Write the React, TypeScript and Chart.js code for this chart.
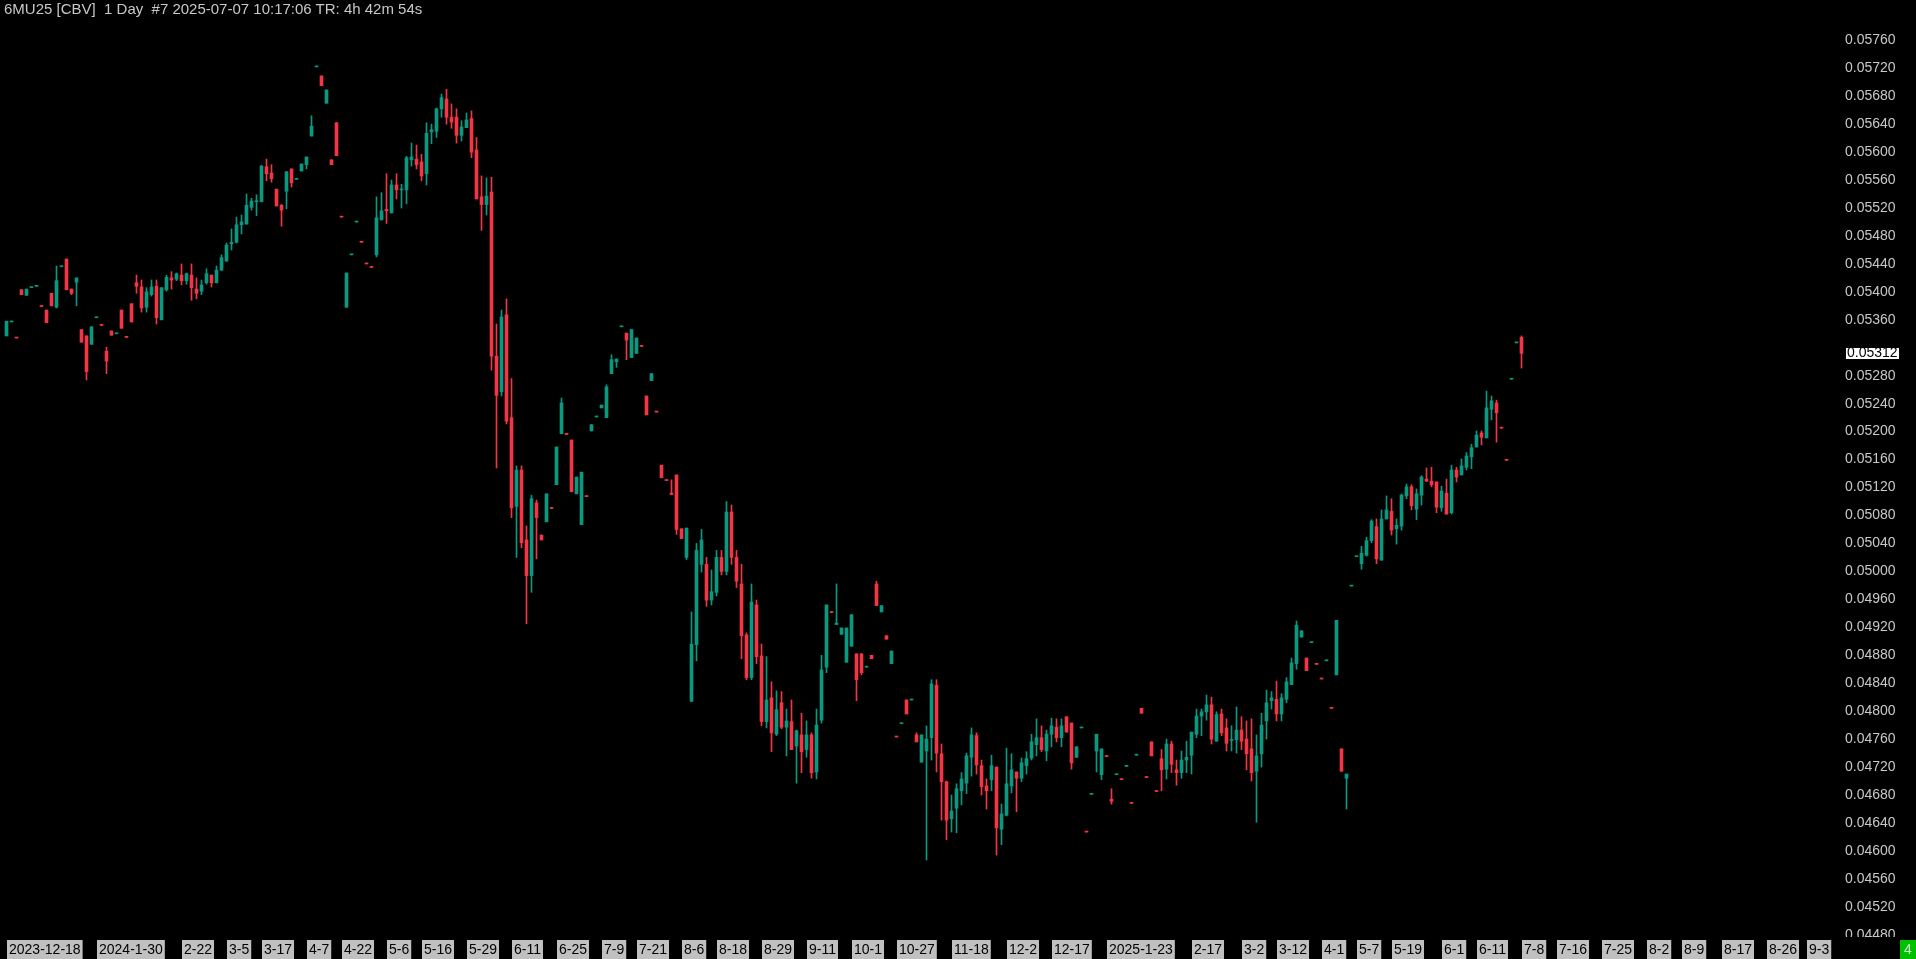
import React, { useEffect, useRef } from 'react';
import { Chart, registerables } from 'chart.js';

Chart.register(...registerables);

const TITLE = '6MU25 [CBV]  1 Day  #7 2025-07-07 10:17:06 TR: 4h 42m 54s';
const STATUS_TEXT = '4';
const SLOT_COUNT = 367;

const openPrices = [
  0.05337,0.05357,0.05335,0.05403,0.05395,0.05406,0.05408,0.05380,0.05374,0.05398,
  0.05378,0.05436,0.05447,0.05404,0.05414,0.05346,0.05337,0.05325,0.05363,0.05353,
  0.05315,0.05344,0.05340,0.05374,0.05336,0.05383,0.05413,0.05407,0.05378,0.05396,
  0.05408,0.05360,0.05403,0.05420,0.05418,0.05424,0.05416,0.05424,0.05404,0.05401,
  0.05413,0.05424,0.05413,0.05431,0.05444,0.05469,0.05471,0.05496,0.05497,0.05521,
  0.05529,0.05529,0.05579,0.05570,0.05547,0.05524,0.05544,0.05576,0.05561,0.05573,
  0.05582,0.05623,0.05722,0.05709,0.05670,0.05589,0.05642,0.05508,0.05378,0.05453,
  0.05500,0.05472,0.05441,0.05436,0.05453,0.05503,0.05518,0.05513,0.05553,0.05546,
  0.05546,0.05589,0.05590,0.05586,0.05569,0.05629,0.05630,0.05662,0.05676,0.05650,
  0.05650,0.05624,0.05635,0.05648,0.05603,0.05536,0.05525,0.05543,0.05308,0.05257,
  0.05367,0.05220,0.05093,0.05145,0.05045,0.04994,0.05098,0.05052,0.05071,0.05091,
  0.05124,0.05197,0.05197,0.05188,0.05111,0.05067,0.05108,0.05201,0.05221,0.05234,
  0.05220,0.05283,0.05300,0.05350,0.05341,0.05306,0.05312,0.05323,0.05251,0.05273,
  0.05229,0.05152,0.05131,0.05112,0.05138,0.05061,0.05020,0.04814,0.04895,0.05010,
  0.05010,0.04959,0.04970,0.05020,0.05000,0.05085,0.05020,0.04982,0.04909,0.04848,
  0.04952,0.04879,0.04785,0.04819,0.04767,0.04812,0.04777,0.04785,0.04750,0.04766,
  0.04745,0.04766,0.04713,0.04787,0.04863,0.04942,0.04924,0.04910,0.04870,0.04893,
  0.04882,0.04882,0.04863,0.04880,0.04982,0.04942,0.04908,0.04868,0.04764,0.04782,
  0.04816,0.04816,0.04766,0.04727,0.04743,0.04762,0.04837,0.04739,0.04699,0.04646,
  0.04661,0.04686,0.04697,0.04734,0.04765,0.04722,0.04693,0.04702,0.04720,0.04631,
  0.04651,0.04693,0.04713,0.04704,0.04722,0.04733,0.04752,0.04762,0.04743,0.04767,
  0.04777,0.04762,0.04792,0.04783,0.04734,0.04776,0.04628,0.04681,0.04743,0.04709,
  0.04736,0.04674,0.04709,0.04703,0.04721,0.04669,0.04737,0.04804,0.04706,0.04756,
  0.04686,0.04732,0.04717,0.04753,0.04716,0.04712,0.04730,0.04737,0.04767,0.04793,
  0.04799,0.04809,0.04757,0.04796,0.04776,0.04758,0.04759,0.04773,0.04760,0.04746,
  0.04714,0.04739,0.04786,0.04815,0.04817,0.04796,0.04817,0.04838,0.04868,0.04906,
  0.04876,0.04898,0.04868,0.04847,0.04872,0.04805,0.04852,0.04746,0.04704,0.04979,
  0.05021,0.05011,0.05023,0.05044,0.05064,0.05016,0.05075,0.05086,0.05061,0.05065,
  0.05108,0.05121,0.05089,0.05109,0.05132,0.05129,0.05128,0.05091,0.05112,0.05084,
  0.05145,0.05138,0.05149,0.05164,0.05178,0.05198,0.05191,0.05232,0.05241,0.05206,
  0.05160,0.05275,0.05327,0.05335,
];

const highPrices = [
  0.05358,0.05358,0.05335,0.05403,0.05404,0.05407,0.05409,0.05380,0.05374,0.05398,
  0.05437,0.05437,0.05447,0.05404,0.05420,0.05346,0.05337,0.05350,0.05364,0.05353,
  0.05321,0.05344,0.05341,0.05374,0.05336,0.05383,0.05424,0.05417,0.05406,0.05417,
  0.05417,0.05406,0.05424,0.05429,0.05427,0.05440,0.05427,0.05440,0.05420,0.05417,
  0.05433,0.05424,0.05437,0.05453,0.05470,0.05490,0.05507,0.05510,0.05540,0.05534,
  0.05539,0.05581,0.05590,0.05582,0.05547,0.05525,0.05572,0.05576,0.05562,0.05583,
  0.05593,0.05652,0.05723,0.05709,0.05689,0.05589,0.05642,0.05508,0.05427,0.05454,
  0.05501,0.05472,0.05441,0.05436,0.05536,0.05542,0.05569,0.05560,0.05569,0.05554,
  0.05594,0.05613,0.05610,0.05597,0.05642,0.05640,0.05663,0.05683,0.05690,0.05669,
  0.05662,0.05645,0.05656,0.05659,0.05621,0.05566,0.05563,0.05564,0.05354,0.05374,
  0.05390,0.05276,0.05151,0.05151,0.05065,0.05109,0.05102,0.05052,0.05111,0.05091,
  0.05178,0.05248,0.05197,0.05188,0.05135,0.05142,0.05108,0.05210,0.05222,0.05238,
  0.05267,0.05310,0.05304,0.05351,0.05341,0.05346,0.05334,0.05323,0.05251,0.05283,
  0.05229,0.05152,0.05131,0.05131,0.05138,0.05061,0.05062,0.04942,0.05040,0.05060,
  0.05020,0.05002,0.05030,0.05030,0.05100,0.05095,0.05030,0.05010,0.04912,0.04982,
  0.04959,0.04896,0.04878,0.04842,0.04829,0.04828,0.04803,0.04816,0.04773,0.04797,
  0.04786,0.04769,0.04803,0.04880,0.04952,0.04942,0.04982,0.04919,0.04919,0.04938,
  0.04882,0.04882,0.04864,0.04880,0.04986,0.04951,0.04908,0.04886,0.04764,0.04783,
  0.04816,0.04817,0.04769,0.04766,0.04779,0.04845,0.04845,0.04753,0.04700,0.04680,
  0.04696,0.04712,0.04740,0.04776,0.04769,0.04730,0.04703,0.04737,0.04720,0.04667,
  0.04747,0.04739,0.04713,0.04733,0.04742,0.04767,0.04789,0.04779,0.04773,0.04790,
  0.04789,0.04789,0.04792,0.04783,0.04749,0.04777,0.04628,0.04682,0.04767,0.04746,
  0.04736,0.04689,0.04710,0.04703,0.04722,0.04669,0.04738,0.04804,0.04706,0.04756,
  0.04686,0.04745,0.04760,0.04757,0.04730,0.04743,0.04757,0.04770,0.04803,0.04803,
  0.04823,0.04820,0.04799,0.04803,0.04789,0.04779,0.04806,0.04792,0.04786,0.04789,
  0.04766,0.04797,0.04830,0.04828,0.04843,0.04825,0.04848,0.04876,0.04929,0.04915,
  0.04876,0.04899,0.04868,0.04847,0.04873,0.04805,0.04930,0.04746,0.04710,0.04980,
  0.05022,0.05036,0.05049,0.05074,0.05075,0.05088,0.05108,0.05104,0.05075,0.05111,
  0.05125,0.05124,0.05118,0.05137,0.05148,0.05149,0.05128,0.05122,0.05132,0.05152,
  0.05149,0.05161,0.05170,0.05182,0.05201,0.05201,0.05258,0.05251,0.05245,0.05206,
  0.05160,0.05276,0.05328,0.05337,
];

const lowPrices = [
  0.05337,0.05357,0.05334,0.05396,0.05395,0.05406,0.05408,0.05379,0.05356,0.05380,
  0.05377,0.05436,0.05403,0.05396,0.05380,0.05328,0.05274,0.05325,0.05363,0.05352,
  0.05283,0.05338,0.05340,0.05348,0.05335,0.05357,0.05398,0.05371,0.05371,0.05394,
  0.05354,0.05360,0.05401,0.05404,0.05416,0.05410,0.05411,0.05388,0.05390,0.05396,
  0.05411,0.05407,0.05413,0.05431,0.05444,0.05460,0.05470,0.05483,0.05497,0.05517,
  0.05509,0.05529,0.05559,0.05557,0.05523,0.05494,0.05519,0.05550,0.05561,0.05573,
  0.05576,0.05623,0.05722,0.05695,0.05670,0.05582,0.05595,0.05507,0.05378,0.05453,
  0.05500,0.05471,0.05440,0.05435,0.05450,0.05503,0.05498,0.05513,0.05533,0.05520,
  0.05526,0.05580,0.05576,0.05559,0.05553,0.05612,0.05621,0.05650,0.05640,0.05634,
  0.05613,0.05616,0.05635,0.05592,0.05533,0.05488,0.05510,0.05288,0.05148,0.05251,
  0.05211,0.05077,0.05020,0.05034,0.04925,0.04970,0.05018,0.05045,0.05071,0.05090,
  0.05124,0.05197,0.05196,0.05114,0.05111,0.05067,0.05107,0.05201,0.05221,0.05234,
  0.05220,0.05283,0.05292,0.05350,0.05303,0.05306,0.05312,0.05322,0.05224,0.05273,
  0.05228,0.05134,0.05130,0.05110,0.05053,0.05047,0.05017,0.04814,0.04872,0.04999,
  0.04950,0.04952,0.04965,0.04995,0.04995,0.05010,0.04977,0.04875,0.04845,0.04845,
  0.04868,0.04779,0.04776,0.04742,0.04765,0.04775,0.04736,0.04745,0.04697,0.04712,
  0.04734,0.04704,0.04703,0.04783,0.04855,0.04941,0.04924,0.04910,0.04870,0.04893,
  0.04815,0.04852,0.04863,0.04875,0.04951,0.04942,0.04903,0.04868,0.04763,0.04782,
  0.04796,0.04816,0.04756,0.04727,0.04587,0.04730,0.04713,0.04644,0.04616,0.04627,
  0.04626,0.04666,0.04682,0.04707,0.04710,0.04680,0.04660,0.04686,0.04594,0.04609,
  0.04650,0.04683,0.04656,0.04699,0.04710,0.04730,0.04736,0.04742,0.04729,0.04749,
  0.04756,0.04749,0.04770,0.04717,0.04734,0.04776,0.04627,0.04681,0.04713,0.04702,
  0.04735,0.04667,0.04709,0.04702,0.04721,0.04668,0.04737,0.04797,0.04705,0.04736,
  0.04685,0.04686,0.04703,0.04712,0.04694,0.04704,0.04712,0.04710,0.04762,0.04765,
  0.04787,0.04753,0.04757,0.04765,0.04743,0.04743,0.04740,0.04745,0.04716,0.04700,
  0.04641,0.04720,0.04760,0.04803,0.04786,0.04786,0.04812,0.04838,0.04860,0.04906,
  0.04858,0.04898,0.04867,0.04846,0.04872,0.04804,0.04852,0.04714,0.04660,0.04979,
  0.05021,0.05003,0.05022,0.05041,0.05011,0.05016,0.05075,0.05052,0.05039,0.05059,
  0.05104,0.05088,0.05074,0.05095,0.05129,0.05121,0.05084,0.05086,0.05082,0.05082,
  0.05128,0.05138,0.05145,0.05147,0.05178,0.05181,0.05191,0.05217,0.05185,0.05205,
  0.05159,0.05275,0.05327,0.05291,
];

const closePrices = [
  0.05358,0.05358,0.05334,0.05396,0.05404,0.05407,0.05409,0.05379,0.05356,0.05380,
  0.05416,0.05437,0.05403,0.05398,0.05420,0.05328,0.05286,0.05350,0.05364,0.05352,
  0.05301,0.05338,0.05341,0.05348,0.05335,0.05357,0.05408,0.05377,0.05400,0.05407,
  0.05363,0.05406,0.05421,0.05417,0.05426,0.05416,0.05426,0.05406,0.05398,0.05410,
  0.05426,0.05413,0.05431,0.05449,0.05467,0.05471,0.05496,0.05500,0.05524,0.05530,
  0.05530,0.05580,0.05569,0.05562,0.05523,0.05517,0.05572,0.05556,0.05562,0.05583,
  0.05593,0.05637,0.05723,0.05695,0.05689,0.05582,0.05595,0.05507,0.05427,0.05454,
  0.05501,0.05471,0.05440,0.05435,0.05506,0.05516,0.05516,0.05553,0.05546,0.05547,
  0.05592,0.05593,0.05582,0.05566,0.05627,0.05632,0.05662,0.05678,0.05650,0.05643,
  0.05624,0.05636,0.05646,0.05600,0.05533,0.05525,0.05537,0.05308,0.05252,0.05364,
  0.05215,0.05091,0.05145,0.05041,0.04994,0.05104,0.05077,0.05045,0.05111,0.05090,
  0.05178,0.05241,0.05196,0.05114,0.05135,0.05142,0.05107,0.05210,0.05222,0.05238,
  0.05264,0.05303,0.05304,0.05351,0.05331,0.05346,0.05334,0.05322,0.05224,0.05283,
  0.05228,0.05134,0.05130,0.05110,0.05060,0.05047,0.05062,0.04896,0.05030,0.05045,
  0.04959,0.04971,0.05020,0.05000,0.05085,0.05020,0.04986,0.04908,0.04848,0.04956,
  0.04878,0.04785,0.04816,0.04769,0.04802,0.04777,0.04786,0.04745,0.04772,0.04742,
  0.04766,0.04712,0.04780,0.04859,0.04952,0.04941,0.04926,0.04919,0.04919,0.04938,
  0.04845,0.04855,0.04864,0.04875,0.04951,0.04951,0.04903,0.04886,0.04763,0.04783,
  0.04796,0.04817,0.04756,0.04766,0.04760,0.04839,0.04740,0.04699,0.04644,0.04657,
  0.04689,0.04703,0.04736,0.04766,0.04723,0.04692,0.04686,0.04722,0.04633,0.04653,
  0.04696,0.04716,0.04704,0.04726,0.04732,0.04756,0.04762,0.04745,0.04767,0.04779,
  0.04762,0.04779,0.04770,0.04726,0.04749,0.04777,0.04627,0.04682,0.04767,0.04746,
  0.04735,0.04671,0.04710,0.04702,0.04722,0.04668,0.04738,0.04797,0.04705,0.04736,
  0.04685,0.04716,0.04753,0.04724,0.04712,0.04730,0.04734,0.04770,0.04793,0.04799,
  0.04809,0.04760,0.04795,0.04769,0.04754,0.04759,0.04773,0.04757,0.04739,0.04712,
  0.04736,0.04780,0.04812,0.04819,0.04796,0.04819,0.04842,0.04869,0.04923,0.04915,
  0.04858,0.04899,0.04867,0.04846,0.04873,0.04804,0.04930,0.04714,0.04710,0.04980,
  0.05022,0.05026,0.05044,0.05072,0.05018,0.05075,0.05088,0.05059,0.05066,0.05109,
  0.05121,0.05094,0.05111,0.05135,0.05129,0.05124,0.05092,0.05115,0.05082,0.05145,
  0.05135,0.05151,0.05165,0.05177,0.05195,0.05192,0.05234,0.05244,0.05227,0.05205,
  0.05159,0.05276,0.05328,0.05312,
];

// bar index -> date tick label
const dateTicks: Array<[number, string]> = [
  [0, '2023-12-18'], [18, '2024-1-30'], [35, '2-22'], [44, '3-5'], [51, '3-17'],
  [60, '4-7'], [67, '4-22'], [76, '5-6'], [83, '5-16'], [92, '5-29'],
  [101, '6-11'], [110, '6-25'], [119, '7-9'], [126, '7-21'], [135, '8-6'],
  [142, '8-18'], [151, '8-29'], [160, '9-11'], [169, '10-1'], [178, '10-27'],
  [189, '11-18'], [200, '12-2'], [209, '12-17'], [220, '2025-1-23'], [237, '2-17'],
  [247, '3-2'], [254, '3-12'], [263, '4-1'], [270, '5-7'], [277, '5-19'],
  [287, '6-1'], [294, '6-11'], [303, '7-8'], [310, '7-16'], [319, '7-25'],
  [328, '8-2'], [335, '8-9'], [343, '8-17'], [352, '8-26'], [360, '9-3'],
];

const priceTicks = [
  0.0576, 0.0572, 0.0568, 0.0564, 0.056, 0.0556, 0.0552, 0.0548, 0.0544, 0.054,
  0.0536, 0.0528, 0.0524, 0.052, 0.0516, 0.0512, 0.0508, 0.0504, 0.05, 0.0496,
  0.0492, 0.0488, 0.0484, 0.048, 0.0476, 0.0472, 0.0468, 0.0464, 0.046, 0.0456,
  0.0452, 0.0448,
];

const PRICE_MIN = 0.044725;
const PRICE_MAX = 0.058177;

const UP = '#089981';
const DOWN = '#f23645';
const FONT = "'Liberation Sans', Arial, sans-serif";

export default function App() {
  const ref = useRef<HTMLCanvasElement>(null);

  useEffect(() => {
    document.body.style.margin = '0';
    document.body.style.background = '#000';
    const canvas = ref.current;
    if (!canvas) return;
    const categories = Array.from({ length: SLOT_COUNT }, (_, i) => String(i));
    const colors = closePrices.map((c, i) => (c >= openPrices[i] ? UP : DOWN));
    const tickText = new Map<number, string>(dateTicks);
    const lastPrice = closePrices[closePrices.length - 1];

    const overlay = {
      id: 'overlay',
      afterDraw(chart: any) {
        const { ctx, chartArea, scales } = chart;
        const W = chart.width;
        ctx.save();
        ctx.fillStyle = '#000';
        ctx.fillRect(chartArea.right, 937, W - chartArea.right, 22);
        const y = scales.y.getPixelForValue(lastPrice);
        ctx.fillStyle = '#ffffff';
        ctx.fillRect(chartArea.right + 7, Math.round(y) - 5, 53, 11);
        ctx.fillStyle = '#000';
        ctx.font = `14px ${FONT}`;
        ctx.textBaseline = 'middle';
        ctx.textAlign = 'left';
        ctx.fillText(lastPrice.toFixed(5), chartArea.right + 8, Math.round(y) + 0.5);
        ctx.fillStyle = '#00c000';
        ctx.fillRect(W - 16, 940, 16, 19);
        ctx.fillStyle = '#c8f5c8';
        ctx.textAlign = 'center';
        ctx.fillText(STATUS_TEXT, W - 8, 950);
        ctx.restore();
      },
    };

    const chart = new Chart(canvas, {
      type: 'bar',
      data: {
        labels: categories,
        datasets: [
          {
            data: openPrices.map((o, i) => [o, closePrices[i]]),
            backgroundColor: colors,
            barThickness: 3,
            minBarLength: 1,
            grouped: false,
            borderWidth: 0,
          },
          {
            data: lowPrices.map((l, i) => [l, highPrices[i]]),
            backgroundColor: colors,
            barThickness: 1,
            grouped: false,
            borderWidth: 0,
          },
        ],
      },
      options: {
        responsive: false,
        animation: false,
        devicePixelRatio: 1,
        layout: { padding: { left: 4, right: 0, top: 0, bottom: 0 } },
        plugins: {
          legend: { display: false },
          tooltip: { enabled: false },
          title: { display: false },
        },
        scales: {
          x: {
            type: 'category',
            offset: true,
            grid: { display: false, drawTicks: false, tickLength: 0 },
            border: { display: false },
            afterBuildTicks: (scale: any) => {
              // label box starts at the right half of its bar slot
              scale.ticks = dateTicks.map(([i]) => ({ value: i + 0.5 }));
            },
            afterFit: (scale: any) => {
              scale.height = 19;
              scale.paddingLeft = 0;
              scale.paddingRight = 0;
            },
            ticks: {
              autoSkip: false,
              maxRotation: 0,
              minRotation: 0,
              align: 'start',
              padding: 2,
              color: '#000',
              font: { size: 14, family: FONT },
              showLabelBackdrop: true,
              backdropColor: '#c0c0c0',
              backdropPadding: { left: 2, right: 2, top: 2, bottom: 1 },
              callback: (value: any) => tickText.get(Math.floor(Number(value))) ?? '',
            },
          },
          y: {
            type: 'linear',
            position: 'right',
            min: PRICE_MIN,
            max: PRICE_MAX,
            grid: { display: false, drawTicks: false, tickLength: 0 },
            border: { display: false },
            afterBuildTicks: (scale: any) => {
              scale.ticks = priceTicks.map((v) => ({ value: v }));
            },
            afterFit: (scale: any) => {
              scale.width = 77;
              scale.paddingTop = 0;
              scale.paddingBottom = 0;
            },
            ticks: {
              padding: 6,
              color: '#c8c8c8',
              font: { size: 14, family: FONT },
              callback: (value: any) => Number(value).toFixed(5),
            },
          },
        },
      } as any,
      plugins: [overlay],
    });
    return () => chart.destroy();
  }, []);

  return (
    <div
      style={{
        position: 'fixed',
        left: 0,
        top: 0,
        width: 1916,
        height: 959,
        background: '#000',
        overflow: 'hidden',
      }}
    >
      <canvas ref={ref} width={1916} height={959} style={{ display: 'block' }} />
      <div
        style={{
          position: 'absolute',
          left: 4,
          top: 1,
          font: `15px ${FONT}`,
          lineHeight: '16px',
          color: '#c8c8c8',
          whiteSpace: 'pre',
        }}
      >
        {TITLE}
      </div>
    </div>
  );
}
